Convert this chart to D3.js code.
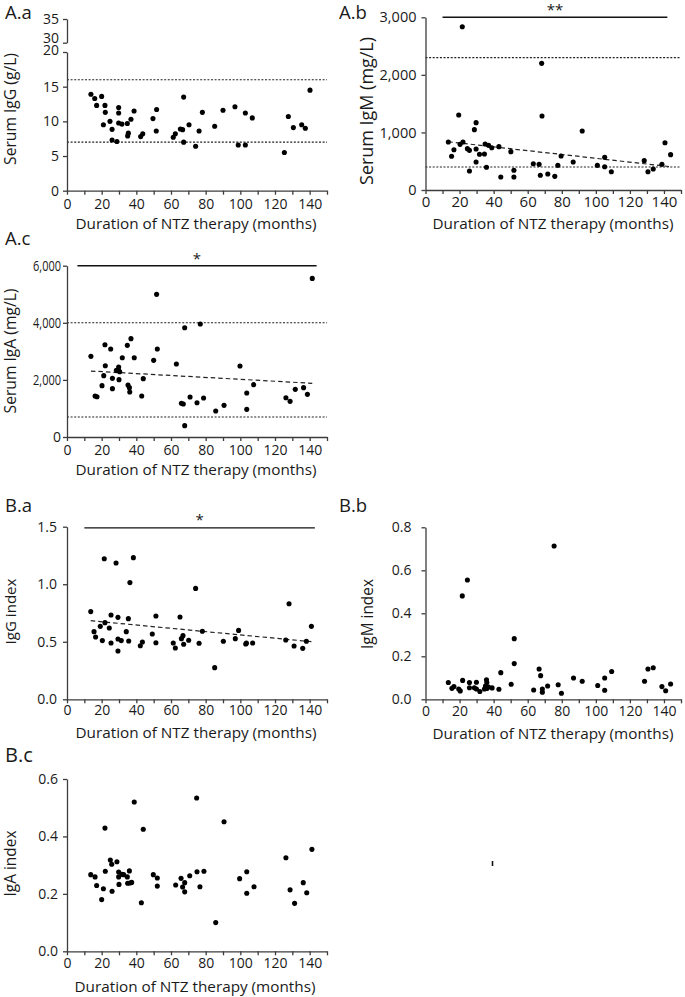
<!DOCTYPE html>
<html>
<head>
<meta charset="utf-8">
<script src="https://cdn.jsdelivr.net/npm/d3@7"></script>
<style>
  html, body { margin: 0; padding: 0; background: #fff; }
  svg { display: block; font-family: "Open Sans", "Noto Sans", sans-serif; }
  text { fill: #1a1a1a; }
</style>
</head>
<body>
<svg id="chart" width="685" height="997"></svg>
<script>
// ---------------- DATA ----------------
const xTicks = [0, 20, 40, 60, 80, 100, 120, 140];
const xTitle = "Duration of NTZ therapy (months)";

// A.a Serum IgG (g/L): [months, value]
const serumIgG = [
  [13.8,13.9],[16.0,13.3],[17.1,12.3],[20.0,13.6],[21.9,12.3],[22.1,11.3],[21.0,9.5],
  [24.8,10.0],[26.0,8.85],[26.0,7.3],[28.8,7.1],[29.8,12.0],[29.8,11.2],[29.8,9.76],
  [31.7,9.6],[34.8,9.7],[36.9,10.3],[35.4,8.3],[35.0,7.9],[38.7,11.5],[42.5,7.8],
  [43.7,8.2],[49.6,10.4],[51.7,11.7],[51.5,8.6],[61.3,7.7],[62.5,8.2],[65.4,8.9],
  [66.7,8.8],[67.3,13.5],[67.3,7.0],[70.4,9.5],[74.2,6.4],[76.2,8.6],[78.1,11.3],
  [85.2,9.3],[90.0,11.6],[96.9,12.1],[98.8,6.6],[102.9,11.2],[102.9,6.6],[106.9,10.5],
  [125.4,5.5],[127.7,10.7],[130.6,9.1],[135.4,9.5],[137.5,9.0],[140.2,14.5]
];
const serumIgGTicksLow = [0, 5, 10, 15, 20];
const serumIgGTicksHigh = [30, 35];
const serumIgGRefs = [16, 7];

// A.b Serum IgM (mg/L)
const serumIgM = [
  [13.4,834],[15.3,585],[16.7,700],[19.5,1303],[20.3,793],[21.6,2837],[22.0,834],
  [24.6,718],[25.8,689],[25.8,330],[28.7,1048],[29.7,1170],[29.7,712],[29.7,486],
  [31.7,620],[34.6,625],[35.0,799],[35.8,394],[37.0,776],[38.9,735],[43.1,753],
  [44.2,226],[50.1,666],[51.9,342],[51.9,226],[63.3,457],[66.7,446],[67.4,255],
  [68.2,2200],[68.4,1285],[71.8,278],[75.9,237],[77.7,428],[79.6,591],[86.7,486],
  [92.0,1025],[100.9,428],[105.2,567],[105.2,405],[109.1,318],[128.4,510],[130.6,318],
  [133.7,365],[138.8,446],[140.6,822],[143.9,614]
];
const serumIgMTicks = [0, 1000, 2000, 3000];
const serumIgMRefs = [2300, 400];
const serumIgMTrend = [[13.4, 838], [143.9, 405]];
const serumIgMSig = { from: 10, to: 142, label: "**" };

// A.c Serum IgA (mg/L)
const serumIgA = [
  [13.8,2825],[16.2,1436],[17.3,1412],[20.2,1798],[21.2,2148],[21.9,3233],[22.1,2498],
  [25.2,3082],[26.2,2054],[26.2,1693],[28.5,2335],[29.8,2451],[29.8,2335],[30.0,2008],
  [30.4,2288],[31.9,2778],[34.8,3210],[35.2,1821],[36.0,1728],[36.2,1576],[36.9,3444],
  [38.8,2778],[43.1,1436],[44.0,2043],[50.0,2685],[51.7,4996],[52.1,3082],[63.1,2556],
  [66.0,1179],[67.1,1156],[67.9,3829],[67.9,397],[71.0,1401],[75.0,1202],[76.9,3957],
  [78.8,1366],[85.8,910],[90.6,1109],[99.8,2486],[103.7,1541],[103.7,969],[107.7,1833],
  [126.3,1377],[128.7,1249],[131.7,1669],[136.5,1728],[138.7,1494],[141.5,5556]
];
const serumIgATicks = [0, 2000, 4000, 6000];
const serumIgARefs = [4000, 700];
const serumIgATrend = [[13.8, 2310], [141.5, 1880]];
const serumIgASig = { from: 6, to: 144, label: "*" };

// B.a IgG index
const igGIndex = [
  [13.7,0.762],[15.6,0.588],[16.5,0.542],[19.2,0.634],[20.4,0.510],[21.5,1.222],[21.9,0.666],
  [24.4,0.620],[25.4,0.733],[25.4,0.489],[28.3,1.184],[29.4,0.712],[29.4,0.524],[29.4,0.420],
  [31.3,0.510],[34.2,0.588],[35.4,0.701],[35.6,0.507],[36.3,1.014],[38.3,1.231],[42.3,0.466],
  [43.5,0.498],[49.2,0.568],[51.3,0.724],[51.3,0.492],[61.3,0.489],[62.5,0.446],[65.2,0.715],
  [66.0,0.527],[66.9,0.553],[67.3,0.478],[70.2,0.513],[74.2,0.964],[76.2,0.487],[78.1,0.591],
  [85.2,0.275],[90.2,0.504],[97.1,0.527],[99.0,0.599],[103.1,0.480],[103.5,0.488],[107.1,0.489],
  [126.2,0.515],[128.1,0.831],[131.0,0.463],[136.0,0.443],[138.1,0.504],[141.0,0.634]
];
const igGIndexTicks = [0, 0.5, 1.0, 1.5];
const igGIndexTrend = [[13.7, 0.683], [141.0, 0.501]];
const igGIndexSig = { from: 10, to: 143, label: "*" };

// B.b IgM index
const igMIndex = [
  [13.4,0.078],[15.5,0.051],[16.7,0.059],[19.5,0.048],[20.4,0.039],[21.6,0.481],[21.8,0.088],
  [24.6,0.555],[25.8,0.078],[25.8,0.054],[28.7,0.054],[29.9,0.079],[29.9,0.048],[31.9,0.036],
  [34.6,0.048],[35.2,0.062],[35.8,0.091],[36.0,0.078],[36.0,0.050],[37.0,0.057],[39.1,0.053],
  [43.1,0.047],[44.2,0.124],[50.3,0.070],[52.1,0.282],[52.1,0.166],[63.5,0.043],[66.7,0.141],
  [67.6,0.110],[68.6,0.048],[68.6,0.033],[71.7,0.062],[75.5,0.713],[77.9,0.068],[79.8,0.028],
  [86.9,0.099],[92.0,0.084],[101.1,0.064],[105.2,0.099],[105.2,0.042],[109.3,0.129],[128.6,0.084],
  [130.6,0.141],[133.7,0.147],[138.8,0.059],[141.0,0.040],[143.9,0.071]
];
const igMIndexTicks = [0, 0.2, 0.4, 0.6, 0.8];

// B.c IgA index
const igAIndex = [
  [13.7,0.267],[16.2,0.259],[17.1,0.229],[20.0,0.180],[21.0,0.218],[21.9,0.429],[22.1,0.279],
  [25.0,0.318],[25.8,0.303],[26.0,0.209],[28.8,0.312],[29.8,0.276],[29.8,0.259],[30.0,0.233],
  [31.7,0.268],[32.7,0.267],[34.8,0.259],[35.0,0.237],[36.0,0.280],[36.3,0.238],[37.3,0.240],
  [38.8,0.520],[42.9,0.169],[44.0,0.425],[49.8,0.267],[52.1,0.255],[52.1,0.227],[62.7,0.231],
  [65.8,0.254],[66.7,0.224],[67.9,0.239],[67.9,0.207],[70.8,0.263],[74.8,0.534],[75.0,0.277],
  [76.7,0.225],[79.0,0.279],[85.8,0.100],[90.6,0.451],[99.6,0.253],[103.7,0.277],[103.7,0.202],
  [107.9,0.225],[126.3,0.326],[128.7,0.214],[131.3,0.167],[136.3,0.239],[138.3,0.204],[141.3,0.355]
];
const igAIndexTicks = [0, 0.2, 0.4, 0.6];

// ---------------- LAYOUT ----------------
const svg = d3.select("#chart");
const AXIS_COLOR = "#3c3c3c";
const fmtThousands = d3.format(",");
const fmt1 = d3.format(".1f");

function fitText(sel, target) {
  const node = sel.node();
  const w = node.getComputedTextLength();
  const fs = parseFloat(sel.attr("font-size"));
  sel.attr("font-size", (fs * target / w).toFixed(2));
}

function styleAxis(g) {
  g.selectAll("path.domain").attr("stroke", AXIS_COLOR).attr("stroke-width", 1.3);
  g.selectAll(".tick line").attr("stroke", AXIS_COLOR).attr("stroke-width", 1.3);
}

function drawPanel(cfg) {
  const g = svg.append("g");
  const x = d3.scaleLinear().domain([0, 150]).range(cfg.xRange);
  const y = d3.scaleLinear().domain(cfg.yDomain).range(cfg.yRange);

  // reference lines (dotted)
  (cfg.refs || []).forEach(v => {
    g.append("line")
      .attr("x1", x(0)).attr("x2", x(150))
      .attr("y1", y(v)).attr("y2", y(v))
      .attr("stroke", "#222").attr("stroke-width", 1.1)
      .attr("stroke-dasharray", "2,1.6");
  });

  // x axis
  const xa = g.append("g")
    .attr("transform", `translate(0,${cfg.yRange[0]})`)
    .call(d3.axisBottom(x)
      .tickValues(d3.range(0, 151, 10))
      .tickFormat(d => xTicks.includes(d) ? d : "")
      .tickSize(4).tickSizeOuter(0).tickPadding(3));
  styleAxis(xa);
  xa.selectAll(".tick text")
    .attr("font-size", cfg.xTickFont || 14)
    .attr("font-family", "Open Sans")
    .attr("fill", "#1a1a1a")
    .attr("dy", null)
    .attr("y", cfg.xTickDy || 17);

  // y axis
  const ya = g.append("g")
    .attr("transform", `translate(${cfg.xRange[0]},0)`)
    .call(d3.axisLeft(y)
      .tickValues(cfg.yTicks)
      .tickFormat(cfg.yFormat)
      .tickSize(4).tickSizeOuter(0).tickPadding(cfg.yPad || 4));
  styleAxis(ya);
  ya.selectAll(".tick text")
    .attr("font-size", cfg.yTickFont || 14)
    .attr("font-family", "Open Sans")
    .attr("fill", "#1a1a1a");
  if (cfg.yTickLen) {
    ya.selectAll(".tick text").each(function(d) {
      if (d !== 0) d3.select(this).attr("textLength", cfg.yTickLen).attr("lengthAdjust", "spacingAndGlyphs");
    });
  }

  // trend line
  if (cfg.trend) {
    g.append("line")
      .attr("x1", x(cfg.trend[0][0])).attr("y1", y(cfg.trend[0][1]))
      .attr("x2", x(cfg.trend[1][0])).attr("y2", y(cfg.trend[1][1]))
      .attr("stroke", "#222").attr("stroke-width", 1.2)
      .attr("stroke-dasharray", "4.5,3");
  }

  // significance bar
  if (cfg.sig) {
    const sy = y(cfg.sigLevel);
    g.append("line")
      .attr("x1", x(cfg.sig.from)).attr("x2", x(cfg.sig.to))
      .attr("y1", sy).attr("y2", sy)
      .attr("stroke", "#111").attr("stroke-width", 1.4);
    g.append("text")
      .attr("x", x((cfg.sig.from + cfg.sig.to) / 2))
      .attr("y", sy + cfg.sigDy)
      .attr("text-anchor", "middle")
      .attr("font-size", 15)
      .text(cfg.sig.label);
  }

  // dots
  g.append("g").selectAll("circle").data(cfg.data).join("circle")
    .attr("cx", d => x(d[0])).attr("cy", d => y(d[1]))
    .attr("r", 2.55).attr("fill", "#000");

  // x title
  const xt = g.append("text")
    .attr("x", cfg.xTitle.cx).attr("y", cfg.xTitle.y)
    .attr("text-anchor", "middle").attr("font-size", 14)
    .text(xTitle);
  fitText(xt, cfg.xTitle.w);

  // y title
  const yt = g.append("text")
    .attr("transform", `translate(${cfg.yTitle.x},${cfg.yTitle.cy}) rotate(-90)`)
    .attr("text-anchor", "middle").attr("font-size", 14)
    .text(cfg.yTitle.text);
  fitText(yt, cfg.yTitle.w);

  // panel label
  svg.append("text")
    .attr("x", cfg.label.x).attr("y", cfg.label.y)
    .attr("font-size", cfg.label.size || 18.5)
    .text(cfg.label.text);

  return { g, x, y, ya };
}

// A.a (with broken axis)
const pAa = drawPanel({
  data: serumIgG,
  xRange: [67, 327], yDomain: [0, 20], yRange: [190.7, 52],
  yTicks: serumIgGTicksLow, yFormat: d => d, yPad: 4,
  refs: serumIgGRefs,
  xTickDy: 18,
  xTitle: { cx: 196, y: 229, w: 241 },
  yTitle: { x: 15.5, cy: 109, w: 112, text: "Serum IgG (g/L)" },
  label: { x: 5, y: 18.5, text: "A.a" }
});
pAa.ya.selectAll(".tick text").filter(d => d === 20).attr("dy", "0.2em");
{
  const yHigh = d3.scaleLinear().domain([30, 35]).range([42.7, 19]);
  const ha = svg.append("g")
    .attr("transform", "translate(67,0)")
    .call(d3.axisLeft(yHigh).tickValues(serumIgGTicksHigh).tickFormat(d => d)
      .tickSize(4).tickSizeOuter(0).tickPadding(4));
  styleAxis(ha);
  ha.selectAll(".tick text").attr("font-size", 14).attr("font-family", "Open Sans").attr("fill", "#1a1a1a");
  ha.selectAll(".tick text").filter(d => d === 30).attr("dy", "0em");
}

// A.b
drawPanel({
  data: serumIgM,
  xRange: [425.5, 681], yDomain: [0, 3000], yRange: [190, 17.3],
  yTicks: serumIgMTicks, yFormat: fmtThousands, yPad: 5, yTickFont: 14.5,
  xTickFont: 15, xTickDy: 17,
  refs: serumIgMRefs, trend: serumIgMTrend,
  sig: serumIgMSig, sigLevel: 3000, sigDy: -2,
  xTitle: { cx: 553, y: 229, w: 241 },
  yTitle: { x: 373, cy: 111, w: 148, text: "Serum IgM (mg/L)" },
  label: { x: 339, y: 18.5, text: "A.b" }
});

// A.c
drawPanel({
  data: serumIgA,
  xRange: [67, 327], yDomain: [0, 6000], yRange: [437, 265.7],
  yTicks: serumIgATicks, yFormat: fmtThousands, yPad: 2, yTickLen: 28,
  refs: serumIgARefs, trend: serumIgATrend,
  sig: serumIgASig, sigLevel: 6000, sigDy: -2,
  xTickDy: 18,
  xTitle: { cx: 196, y: 475, w: 241 },
  yTitle: { x: 15.5, cy: 351, w: 125, text: "Serum IgA (mg/L)" },
  label: { x: 5, y: 245, text: "A.c" }
});

// B.a
drawPanel({
  data: igGIndex,
  xRange: [67, 327], yDomain: [0, 1.5], yRange: [699.3, 526.7],
  yTicks: igGIndexTicks, yFormat: fmt1, yPad: 6,
  trend: igGIndexTrend,
  sig: igGIndexSig, sigLevel: 1.49, sigDy: -3,
  xTickDy: 16,
  xTitle: { cx: 196, y: 738, w: 241 },
  yTitle: { x: 16, cy: 611.5, w: 66, text: "IgG index" },
  label: { x: 5, y: 511.5, text: "B.a" }
});

// B.b
drawPanel({
  data: igMIndex,
  xRange: [425.5, 681], yDomain: [0, 0.8], yRange: [699.3, 527.3],
  yTicks: igMIndexTicks, yFormat: fmt1, yPad: 10,
  xTickDy: 17,
  xTitle: { cx: 553, y: 739, w: 241 },
  yTitle: { x: 373, cy: 614, w: 70, text: "IgM index" },
  label: { x: 339, y: 511.5, text: "B.b" }
});

// B.c
drawPanel({
  data: igAIndex,
  xRange: [67, 327], yDomain: [0, 0.6], yRange: [951.3, 779],
  yTicks: igAIndexTicks, yFormat: fmt1, yPad: 5,
  xTickDy: 17,
  xTitle: { cx: 195, y: 991.5, w: 241 },
  yTitle: { x: 15.5, cy: 863.5, w: 66, text: "IgA index" },
  label: { x: 5, y: 761.5, text: "B.c", size: 20 }
});

// small stray mark in the original figure
svg.append("line")
  .attr("x1", 492.5).attr("x2", 492.5).attr("y1", 861).attr("y2", 866)
  .attr("stroke", "#111").attr("stroke-width", 1.6);
</script>
</body>
</html>
